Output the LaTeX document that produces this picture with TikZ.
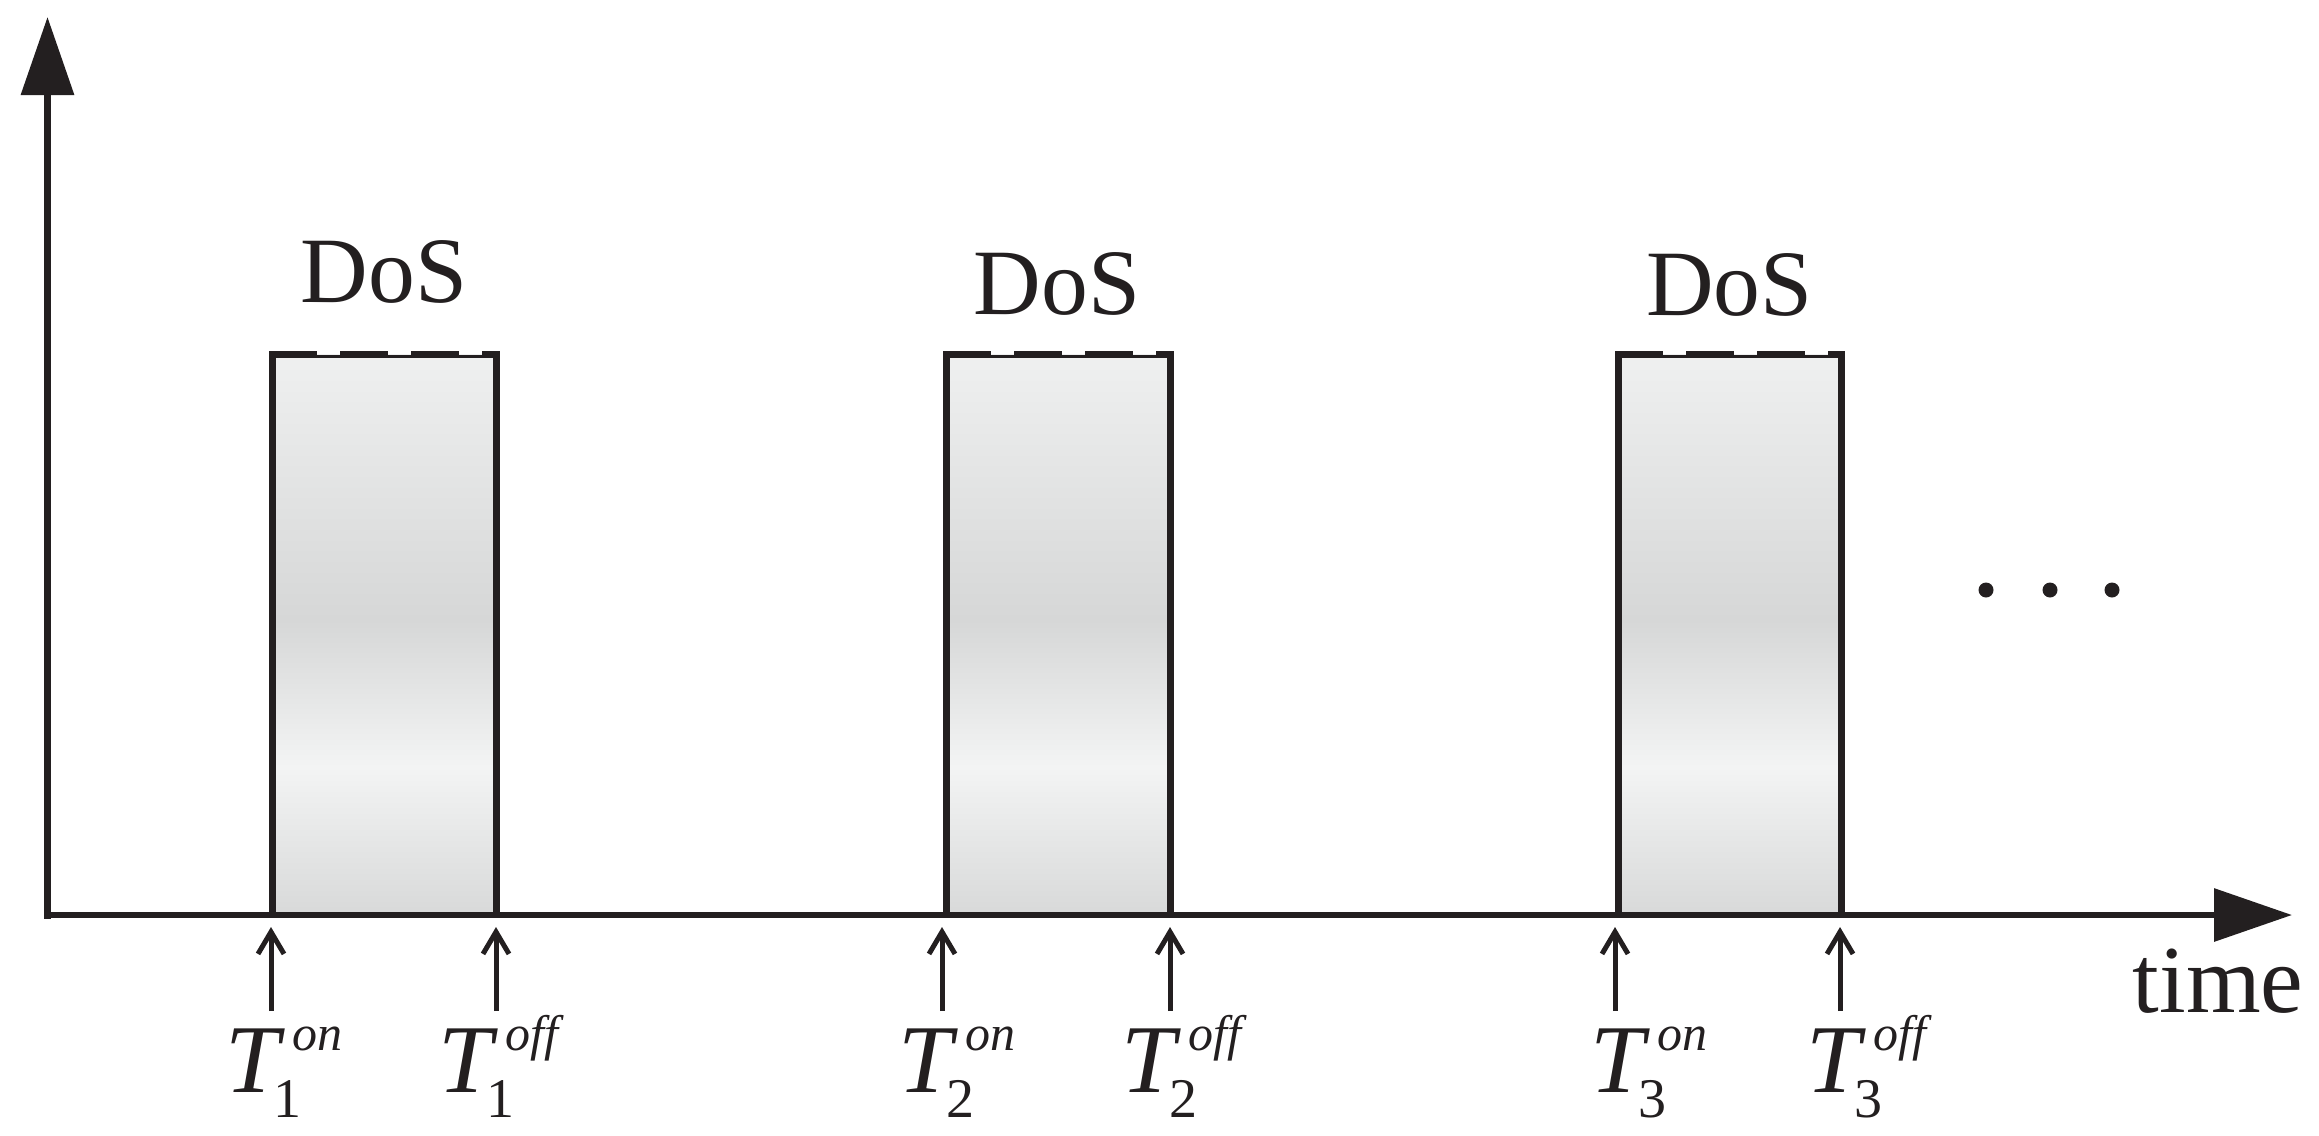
\documentclass[tikz,border=0pt]{standalone}
\usepackage{fontspec}
\setmainfont{Liberation Serif}
\usetikzlibrary{arrows.meta}
\definecolor{ink}{HTML}{231F20}
\definecolor{gLight}{HTML}{EFF0F0}
\definecolor{gDark}{HTML}{D6D7D7}
\definecolor{gLighter}{HTML}{F3F4F4}
\definecolor{gBottom}{HTML}{D8D9D9}
\newcommand{\tlabel}[2]{%
  \fontsize{24.3pt}{24.3pt}\selectfont
  \makebox[0pt][l]{\textit{T}}%
  \hspace{12pt}\makebox[0pt][l]{\raisebox{-6.25pt}{\fontsize{14pt}{14pt}\selectfont #1}}%
  \hspace{4.75pt}\raisebox{10.5pt}{\fontsize{12.5pt}{12.5pt}\selectfont\textit{#2}}}
\begin{document}
\begin{tikzpicture}[x=0.25pt,y=-0.25pt,line cap=butt]
\tikzset{
  axis/.style={draw=ink,line width=1.6pt,-{Triangle[length=19.5pt,width=13pt]}},
  boxedge/.style={draw=ink,line width=1.75pt},
  topdash/.style={draw=ink,line width=1.75pt,dash pattern=on 12pt off 5.75pt},
  thinline/.style={draw=ink,line width=0.55pt},
  marker/.style={draw=ink,line width=1.25pt,-{Straight Barb[length=5.5pt,width=6.5pt]}},
  doslbl/.style={font=\fontsize{23.4pt}{23.4pt}\selectfont,inner sep=0,anchor=base,text=ink},
  tlbl/.style={inner sep=0,anchor=base west,text=ink},
}
\useasboundingbox (0,0) rectangle (2319,1135);

% boxes
\foreach \i/\l/\r in {1/272.5/496.5, 2/946.5/1170, 3/1618.5/1841.5}{
  \shade[top color=gLight,bottom color=gDark] (\l,354) rectangle (\r,620);
  \shade[top color=gDark,bottom color=gLighter] (\l,619.5) rectangle (\r,767);
  \shade[top color=gLighter,bottom color=gBottom] (\l,766.5) rectangle (\r,915);
  \draw[thinline] (\l,356.5) -- (\r,356.5);
  \draw[topdash] (\l-3.5,354.5) -- (\r+3.5,354.5);
  \draw[boxedge] (\l,351) -- (\l,915);
  \draw[boxedge] (\r,351) -- (\r,915);
}

% axes
\coordinate (origin) at (44,915);
\coordinate (ycorner) at (47.5,918.5);
\coordinate (ytop) at (47.5,17);
\coordinate (xend) at (2292,915);
\draw[axis] (ycorner) -- (ytop);
\draw[axis] (origin) -- (xend);

% DoS labels
\node[doslbl] (dos1) at (384,302) {DoS};
\node[doslbl] (dos2) at (1057,314) {DoS};
\node[doslbl] (dos3) at (1729.5,315) {DoS};

% time label
\node[inner sep=0,anchor=base west,text=ink,font=\fontsize{24pt}{24pt}\selectfont] (time) at (2132,1012) {time};

% dots
\fill[ink] (1986,590) circle[radius=7.5];
\fill[ink] (2050,590) circle[radius=7.5];
\fill[ink] (2112,590) circle[radius=7.5];

% markers and labels
\foreach \n/\x in {a/271, b/496, c/942, d/1170, e/1615, f/1840}{
  \coordinate (\n low) at (\x,1011);
  \coordinate (\n high) at (\x,927);
  \draw[marker] (\n low) -- (\n high);
}
\node[tlbl] (t1on)  at (225,1092)  {\tlabel{1}{on}};
\node[tlbl] (t1off) at (438,1092)  {\tlabel{1}{off}};
\node[tlbl] (t2on)  at (898,1092)  {\tlabel{2}{on}};
\node[tlbl] (t2off) at (1121,1092) {\tlabel{2}{off}};
\node[tlbl] (t3on)  at (1590,1092) {\tlabel{3}{on}};
\node[tlbl] (t3off) at (1806,1092) {\tlabel{3}{off}};
\end{tikzpicture}
\end{document}
